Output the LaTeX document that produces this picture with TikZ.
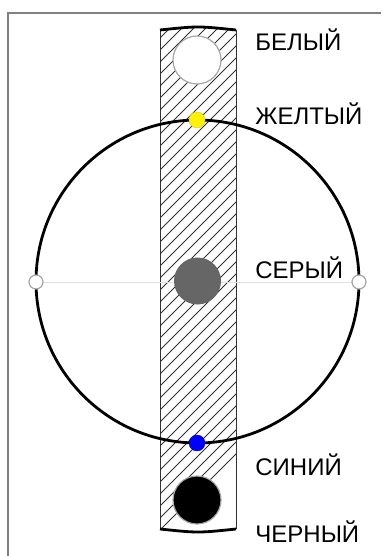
\documentclass[tikz,border=0pt]{standalone}
\usepackage{fontspec}
\setmainfont{Liberation Sans}
\begin{document}
\begin{tikzpicture}[x=1pt,y=-1pt,thick]
	\tikzset{
		label/.style={anchor=west, inner sep=0pt, font=\fontsize{24}{28}\selectfont},
		ball/.style={draw=gray!70, line width=1.2pt}
	}
	\useasboundingbox (0,0) rectangle (381,556);
	% frame
	\draw[gray, line width=1.5pt] (8,556) -- (8,13) -- (381,13);
	% strip with hatching
	\begin{scope}
		\clip (160,30) .. controls (198,26) .. (236,30) -- (236,529) .. controls (198,533) .. (160,529) -- cycle;
		\foreach \i in {0,12,...,600}
			\draw[line width=0.8pt, black!80] (160+\i-600,530) -- ++(540,-540);
	\end{scope}
	\draw[line width=1pt, black!80] (160,30) -- (160,529) (236,30) -- (236,529);
	\draw[line width=2.8pt] (160,30) .. controls (198,26) .. (236,30);
	\draw[line width=2.8pt] (160,529) .. controls (198,533) .. (236,529);
	% axis and big circle
	\draw[line width=1pt, black!12] (36,282) -- (359,282);
	\draw[line width=2.8pt] (197.5,281.5) circle (161.5);
	\draw[ball, fill=white] (36,282) circle (7);
	\draw[ball, fill=white] (359,282) circle (7);
	% balls
	\draw[ball, fill=white] (197,60) circle (24);
	\fill[yellow, draw=yellow!80!black, thin] (197,120) circle (8);
	\fill[black!60] (197.5,281) circle (23.5);
	\fill[blue, draw=blue!70!black, thin] (197,443) circle (8);
	\draw[ball, fill=black] (197,500) circle (24);
	% labels
	\node[label] (white) at (255,40) {БЕЛЫЙ};
	\node[label] (yellow) at (255,114) {ЖЕЛТЫЙ};
	\node[label] (grey) at (255,268) {СЕРЫЙ};
	\node[label] (blue) at (255,465) {СИНИЙ};
	\node[label] (black) at (255,532) {ЧЕРНЫЙ};
\end{tikzpicture}
\end{document}
